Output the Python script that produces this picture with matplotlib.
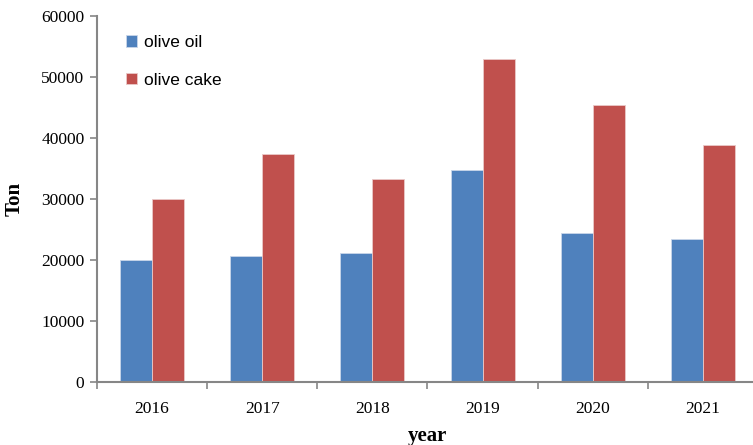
import matplotlib
matplotlib.use("Agg")
import matplotlib.pyplot as plt
import numpy as np

years = ["2016", "2017", "2018", "2019", "2020", "2021"]
olive_oil = [20000, 20700, 21200, 34650, 24350, 23400]
olive_cake = [30000, 37350, 33250, 52900, 45300, 38800]
yticks = [0, 10000, 20000, 30000, 40000, 50000, 60000]

fig = plt.figure(figsize=(7.53, 4.45), dpi=100)
ax = fig.add_axes([97/753, 63/445, 661/753, 366.3/445])

x = np.arange(len(years))
w = 0.29
ax.bar(x - w/2, olive_oil, w, color="#4F81BD", edgecolor="#C9D6EA", linewidth=0.6, label="olive oil")
ax.bar(x + w/2, olive_cake, w, color="#C0504D", edgecolor="#EAC9C8", linewidth=0.6, label="olive cake")

ax.set_xlim(-0.5, len(years) - 0.5)
ax.set_ylim(0, 60000)
ax.set_yticks(yticks)
ax.set_yticklabels([str(v) for v in yticks], fontfamily="Liberation Serif", fontsize=12.5)
ax.set_xticks(x)
ax.set_xticklabels(years, fontfamily="Liberation Serif", fontsize=12.5)
ax.set_xticks(np.arange(len(years) + 1) - 0.5, minor=True)
ax.tick_params(axis="x", which="major", length=0, pad=14)
ax.tick_params(axis="x", which="minor", length=5, color="#868686", width=1.2)
ax.tick_params(axis="y", length=5, color="#868686", width=1.2, pad=4)

for s in ["top", "right"]:
    ax.spines[s].set_visible(False)
for s in ["left", "bottom"]:
    ax.spines[s].set_color("#868686")
    ax.spines[s].set_linewidth(1.5)

ax.set_ylabel("Ton", fontfamily="Liberation Serif", fontweight="bold", fontsize=15, labelpad=12)
ax.set_xlabel("year", fontfamily="Liberation Serif", fontweight="bold", fontsize=15, labelpad=6)

leg = ax.legend(loc="upper left", bbox_to_anchor=(0.02, 0.99), frameon=False,
                prop={"family": "Liberation Sans", "size": 12.5},
                handlelength=0.65, handleheight=0.65, handletextpad=0.4, labelspacing=1.3)

fig.savefig("out.png", dpi=100)
